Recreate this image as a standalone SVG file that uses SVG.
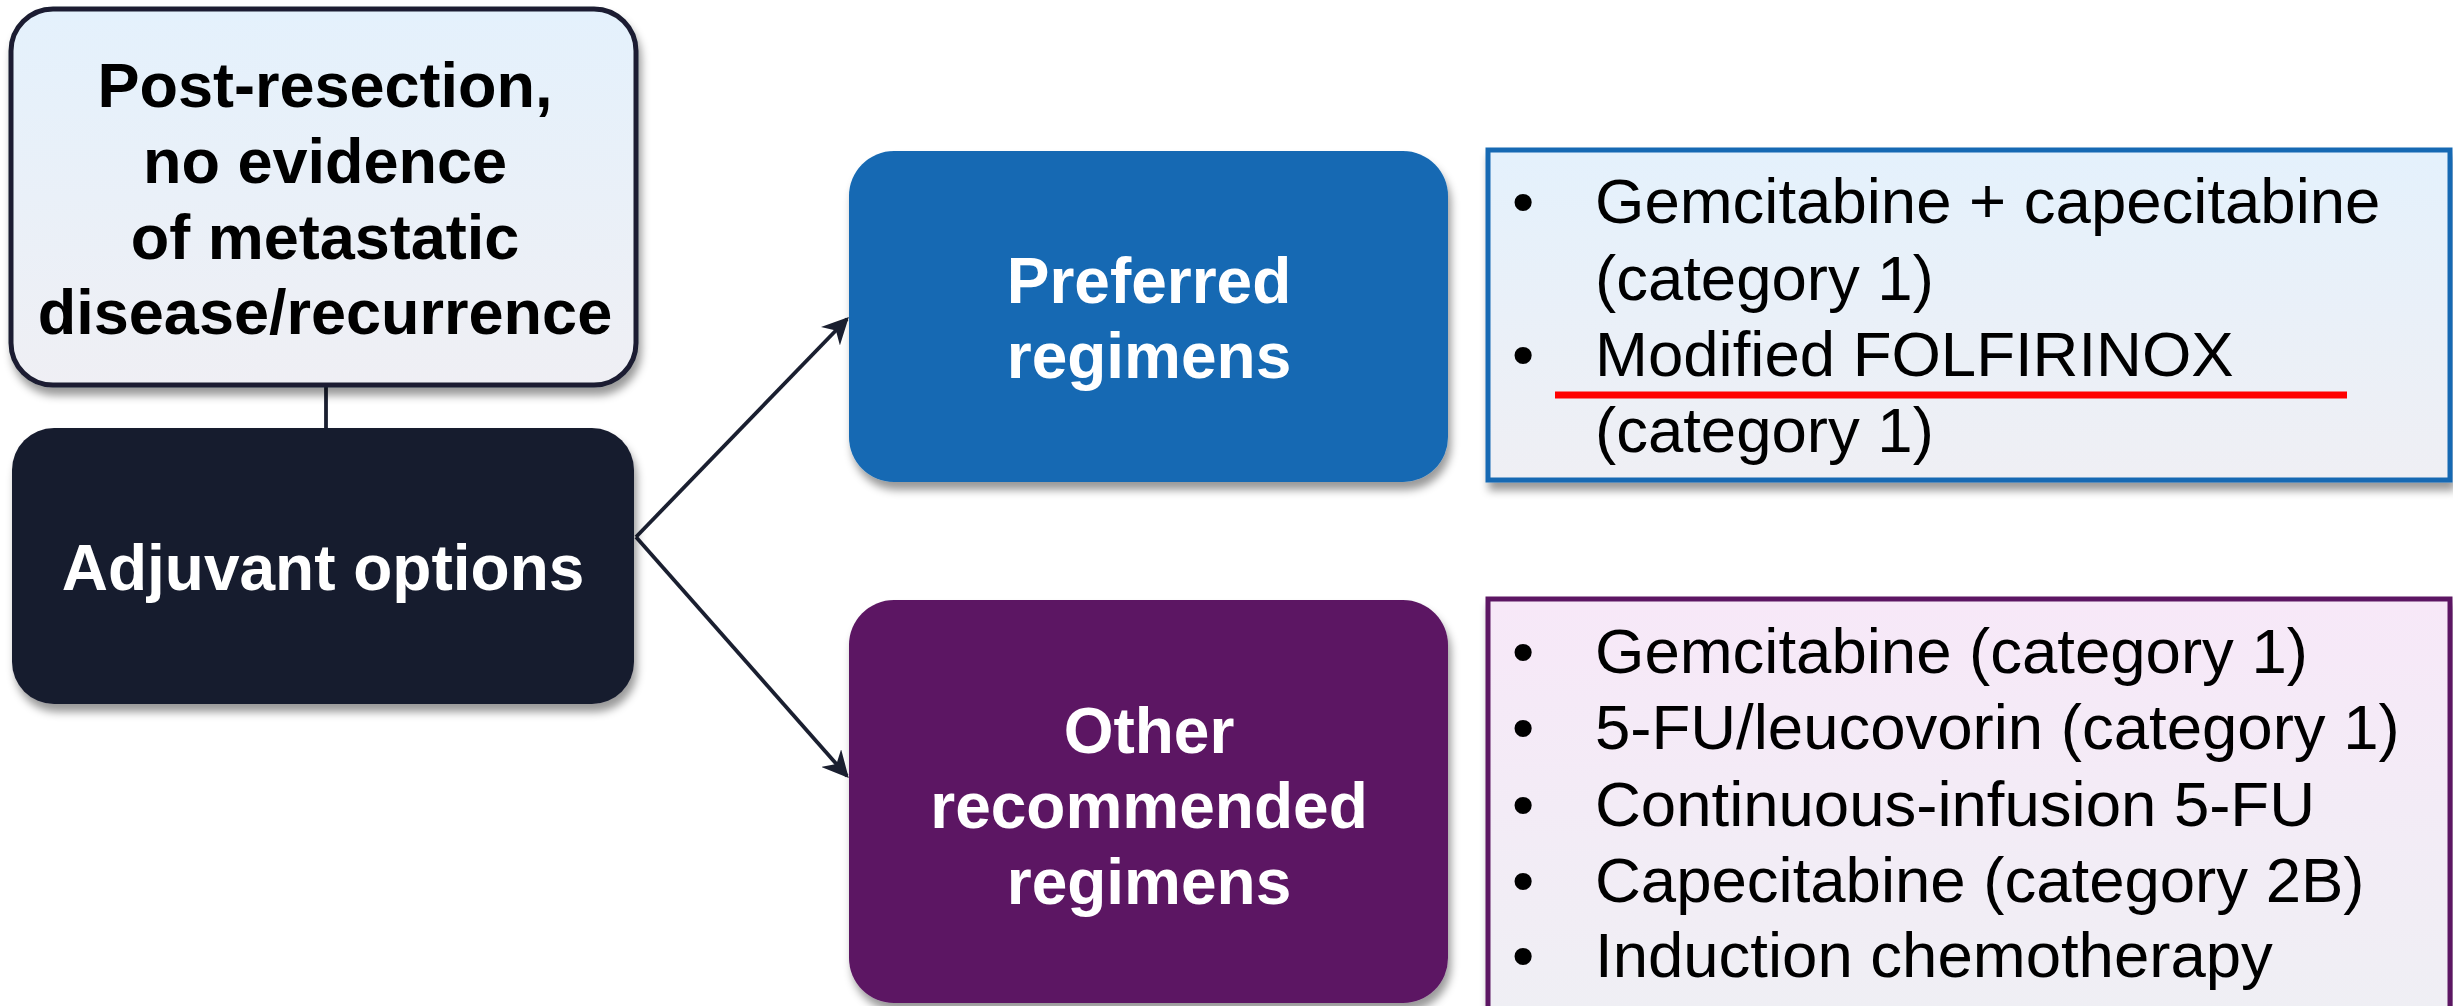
<svg xmlns="http://www.w3.org/2000/svg" width="2453" height="1006" viewBox="0 0 2453 1006">
<defs>
<linearGradient id="gBlue" x1="0" y1="0" x2="0" y2="1"><stop offset="0" stop-color="#e4f1fc"/><stop offset="1" stop-color="#efeff4"/></linearGradient>
<linearGradient id="gPink" x1="0" y1="0" x2="0" y2="1"><stop offset="0" stop-color="#f7e8f8"/><stop offset="1" stop-color="#efeff4"/></linearGradient>
<filter id="sh" x="-10%" y="-10%" width="125%" height="130%"><feDropShadow dx="3" dy="8" stdDeviation="4" flood-color="#000" flood-opacity="0.4"/></filter>
<marker id="arr" viewBox="0 0 10 10" refX="9" refY="5" markerWidth="7" markerHeight="7" orient="auto" markerUnits="strokeWidth"><path d="M0,0 L10,5 L0,10 L3,5 Z" fill="#1a1f30"/></marker>
</defs>
<style>
.b{font-family:"Liberation Sans",Arial,sans-serif;font-weight:bold;text-anchor:middle}
.r{font-family:"Liberation Sans",Arial,sans-serif;font-size:63.5px;fill:#000}
.w{fill:#fff;font-size:64px}
.k{fill:#000;font-size:63px}
</style>
<rect width="2453" height="1006" fill="#fff"/>
<g id="connectors" stroke="#1a1f30" stroke-width="3.8" fill="none">
<line x1="326" y1="386" x2="326" y2="430"/>
<line x1="636" y1="537" x2="847" y2="319" marker-end="url(#arr)"/>
<line x1="636" y1="537" x2="847" y2="776" marker-end="url(#arr)"/>
</g>
<g id="post-resection">
<rect x="11" y="9" width="625" height="376" rx="42" fill="url(#gBlue)" stroke="#1a1f30" stroke-width="5" filter="url(#sh)"/>
<text class="b k" x="325" y="107">Post-resection,</text>
<text class="b k" x="325" y="183">no evidence</text>
<text class="b k" x="325" y="259">of metastatic</text>
<text class="b k" x="325" y="334">disease/recurrence</text>
</g>
<g id="adjuvant">
<rect x="12" y="428" width="622" height="276" rx="42" fill="#181c2f" filter="url(#sh)"/>
<text class="b w" x="323" y="590">Adjuvant options</text>
</g>
<g id="preferred">
<rect x="849" y="151" width="599" height="331" rx="45" fill="#1469b3" filter="url(#sh)"/>
<text class="b w" x="1149" y="303">Preferred</text>
<text class="b w" x="1149" y="378">regimens</text>
</g>
<g id="preferred-list">
<rect x="1488" y="150" width="962" height="330" fill="url(#gBlue)" stroke="#1469b3" stroke-width="5" filter="url(#sh)"/>
<text class="r" x="1512" y="223">•</text>
<text class="r" x="1595" y="223">Gemcitabine + capecitabine</text>
<text class="r" x="1595" y="300">(category 1)</text>
<text class="r" x="1512" y="376">•</text>
<text class="r" x="1595" y="376">Modified FOLFIRINOX</text>
<text class="r" x="1595" y="452">(category 1)</text>
<line x1="1555" y1="395" x2="2347" y2="395" stroke="#ff0000" stroke-width="7"/>
</g>
<g id="other">
<rect x="849" y="600" width="599" height="403" rx="45" fill="#5c1963" filter="url(#sh)"/>
<text class="b w" x="1149" y="753">Other</text>
<text class="b w" x="1149" y="828">recommended</text>
<text class="b w" x="1149" y="904">regimens</text>
</g>
<g id="other-list">
<rect x="1488" y="599" width="962" height="420" fill="url(#gPink)" stroke="#5c1963" stroke-width="5" filter="url(#sh)"/>
<text class="r" x="1512" y="673">•</text>
<text class="r" x="1595" y="673">Gemcitabine (category 1)</text>
<text class="r" x="1512" y="749">•</text>
<text class="r" x="1595" y="749">5-FU/leucovorin (category 1)</text>
<text class="r" x="1512" y="826">•</text>
<text class="r" x="1595" y="826">Continuous-infusion 5-FU</text>
<text class="r" x="1512" y="902">•</text>
<text class="r" x="1595" y="902">Capecitabine (category 2B)</text>
<text class="r" x="1512" y="977">•</text>
<text class="r" x="1595" y="977">Induction chemotherapy</text>
</g>
</svg>
